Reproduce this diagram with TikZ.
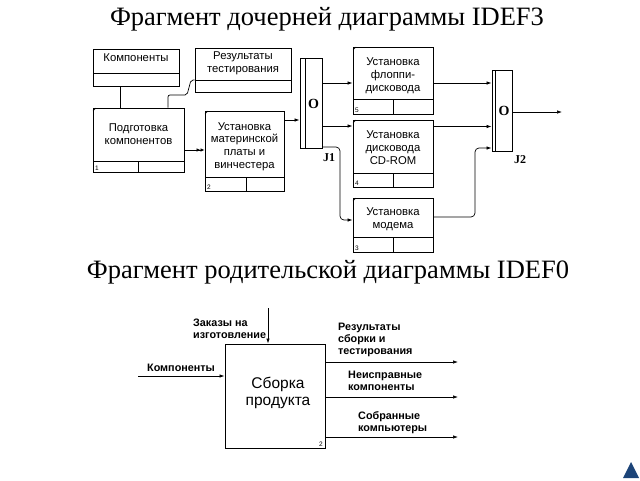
\documentclass[tikz,border=0pt]{standalone}
\usepackage{fontspec}
\setmainfont{Liberation Serif}
\setsansfont{Liberation Sans}
\usetikzlibrary{arrows.meta}
\definecolor{tri}{RGB}{28,68,120}
\tikzset{
  ubox/.style={draw, line width=0.9pt, inner sep=0pt},
  rbox/.style={draw, line width=0.7pt, inner sep=0pt},
  txt/.style={font=\sffamily\fontsize{11.3}{12.8}\selectfont, align=center, inner sep=0pt},
  num/.style={font=\sffamily\fontsize{6.5}{7}\selectfont, inner sep=0pt, anchor=south west},
  jbox/.style={draw, line width=0.9pt, inner sep=0pt, minimum width=22pt},
  jlab/.style={font=\bfseries\fontsize{14}{14}\selectfont, inner sep=0pt},
  lbl/.style={font=\sffamily\bfseries\fontsize{10.8}{12.3}\selectfont, align=left, inner sep=0pt, anchor=west},
  arr/.style={line width=0.7pt, -{Latex[length=5pt,width=3.5pt]}},
  ln/.style={line width=0.7pt},
  title/.style={font=\fontsize{26.5}{26.5}\selectfont, inner sep=0pt}
}
% #1 name, #2 x1, #3 y1, #4 x2, #5 y2, #6 divider y, #7 divider x, #8 number
\newcommand\uob[8]{%
  \node[ubox, minimum width={#4-#2}, minimum height={#5-#3}] (#1) at ({(#2+#4)/2},{(#3+#5)/2}) {};
  \draw[line width=0.6pt] (#2,#6) -- (#4,#6) (#7,#6) -- (#7,#5);
  \draw[line width=0.5pt] (#2,#3+3) -- (#2+3,#3);
  \node[num] (#1n) at (#2+2,#5-1) {#8};
}
\begin{document}
\begin{tikzpicture}[x=1pt,y=-1pt]
\useasboundingbox (0,0) rectangle (640,480);

% titles
\node[title] (t1) at (327,19.5) {Фрагмент дочерней диаграммы IDEF3};
\node[title] (t2) at (328,272) {Фрагмент родительской диаграммы IDEF0};

% referent boxes
\node[rbox, minimum width=86pt, minimum height=37pt] (komp) at (136,67.5) {};
\draw[line width=0.6pt] (93,73) -- (179,73);
\node[txt] (kompt) at (136,58) {Компоненты};
\node[rbox, minimum width=96pt, minimum height=44pt] (rez) at (243,70) {};
\draw[line width=0.6pt] (195,80) -- (291,80);
\node[txt] (rezt) at (243,63) {Результаты\\тестирования};

% UOW boxes
\uob{b1}{93}{108}{184}{172}{161}{138}{1}
\node[txt] (b1t) at (138.5,134.5) {Подготовка\\компонентов};
\uob{b2}{205}{111}{284}{191}{177}{246}{2}
\node[txt] (b2t) at (244.5,146.5) {Установка\\материнской\\платы и\\винчестера};
\uob{b5}{353}{47}{433}{114}{99}{393}{5}
\node[txt] (b5t) at (393,76) {Установка\\флоппи-\\дисковода};
\uob{b4}{353}{120}{433}{187}{173}{393}{4}
\node[txt] (b4t) at (393,147.5) {Установка\\дисковода\\CD-ROM};
\uob{b3}{353}{198}{433}{252}{237}{393}{3}
\node[txt] (b3t) at (393,219) {Установка\\модема};

% junctions
\node[jbox, minimum height=90pt] (j1) at (311,103) {};
\draw[line width=0.6pt] (305,58) -- (305,148);
\node[jlab] (j1o) at (313.5,104) {O};
\node[font=\bfseries\fontsize{12}{12}\selectfont, inner sep=0pt] (j1l) at (329,158) {J1};
\node[jbox, minimum height=81pt, minimum width=20pt] (j2) at (502,110.5) {};
\draw[line width=0.6pt] (495.5,70) -- (495.5,151);
\node[jlab] (j2o) at (504,111) {O};
\node[font=\bfseries\fontsize{12}{12}\selectfont, inner sep=0pt] (j2l) at (520,160) {J2};

% connectors top
\draw[ln] (komp.south -| 120,0) -- (b1.north -| 120,0);
\draw[ln, rounded corners=2pt] (b1.north -| 168,0) -- (168,95) -- (187,95) -- (191,80) -- (rez.west |- 0,80);
\draw[line width=0.7pt, -{Latex[length=4pt,width=3.5pt]Latex[length=4pt,width=3.5pt]}] (b1.east |- 0,150) -- (b2.west |- 0,150);
\draw[arr] (b2.east |- 0,120) -- (j1.west |- 0,120);
\draw[arr] (j1.east |- 0,83) -- (b5.west |- 0,83);
\draw[arr] (j1.east |- 0,126) -- (b4.west |- 0,126);
\draw[arr, rounded corners=4pt] (j1.east |- 0,147) -- (340,147) -- (340,220) -- (b3.west |- 0,220);
\draw[arr] (b5.east |- 0,83) -- (j2.west |- 0,83);
\draw[arr] (b4.east |- 0,126.5) -- (j2.west |- 0,126.5);
\draw[arr, rounded corners=4pt] (b3.east |- 0,217) -- (475,217) -- (475,148) -- (j2.west |- 0,148);
\coordinate (j2out) at (562,112);
\draw[arr] (j2.east |- j2out) -- (j2out);

% bottom IDEF0
\node[draw, line width=1pt, minimum width=100pt, minimum height=104pt, inner sep=0pt] (sb) at (275,396) {};
\node[font=\sffamily\fontsize{15.5}{17}\selectfont, align=center, inner sep=0pt] (sbt) at (278,393) {Сборка\\продукта};
\node[num, anchor=south east] (sbn) at (323,447) {2};
\coordinate (ctl) at (268,308);
\coordinate (inp) at (138,376);
\coordinate (o1) at (458,362);
\coordinate (o2) at (458,397);
\coordinate (o3) at (458,437);
\draw[arr] (ctl) -- (ctl |- sb.north);
\draw[arr] (inp) -- (inp -| sb.west);
\draw[arr] (o1 -| sb.east) -- (o1);
\draw[arr] (o2 -| sb.east) -- (o2);
\draw[arr] (o3 -| sb.east) -- (o3);
\node[lbl] (lz) at (193,329) {Заказы на\\изготовление};
\node[lbl] (lk) at (147,368) {Компоненты};
\node[lbl] (lr) at (338,340) {Результаты\\сборки и\\тестирования};
\node[lbl] (ln) at (348,380.5) {Неисправные\\компоненты};
\node[lbl] (ls) at (358,422.5) {Собранные\\компьютеры};

% navigation triangle
\fill[tri] (623,478) -- (639,478) -- (631,462) -- cycle;
\end{tikzpicture}
\end{document}
